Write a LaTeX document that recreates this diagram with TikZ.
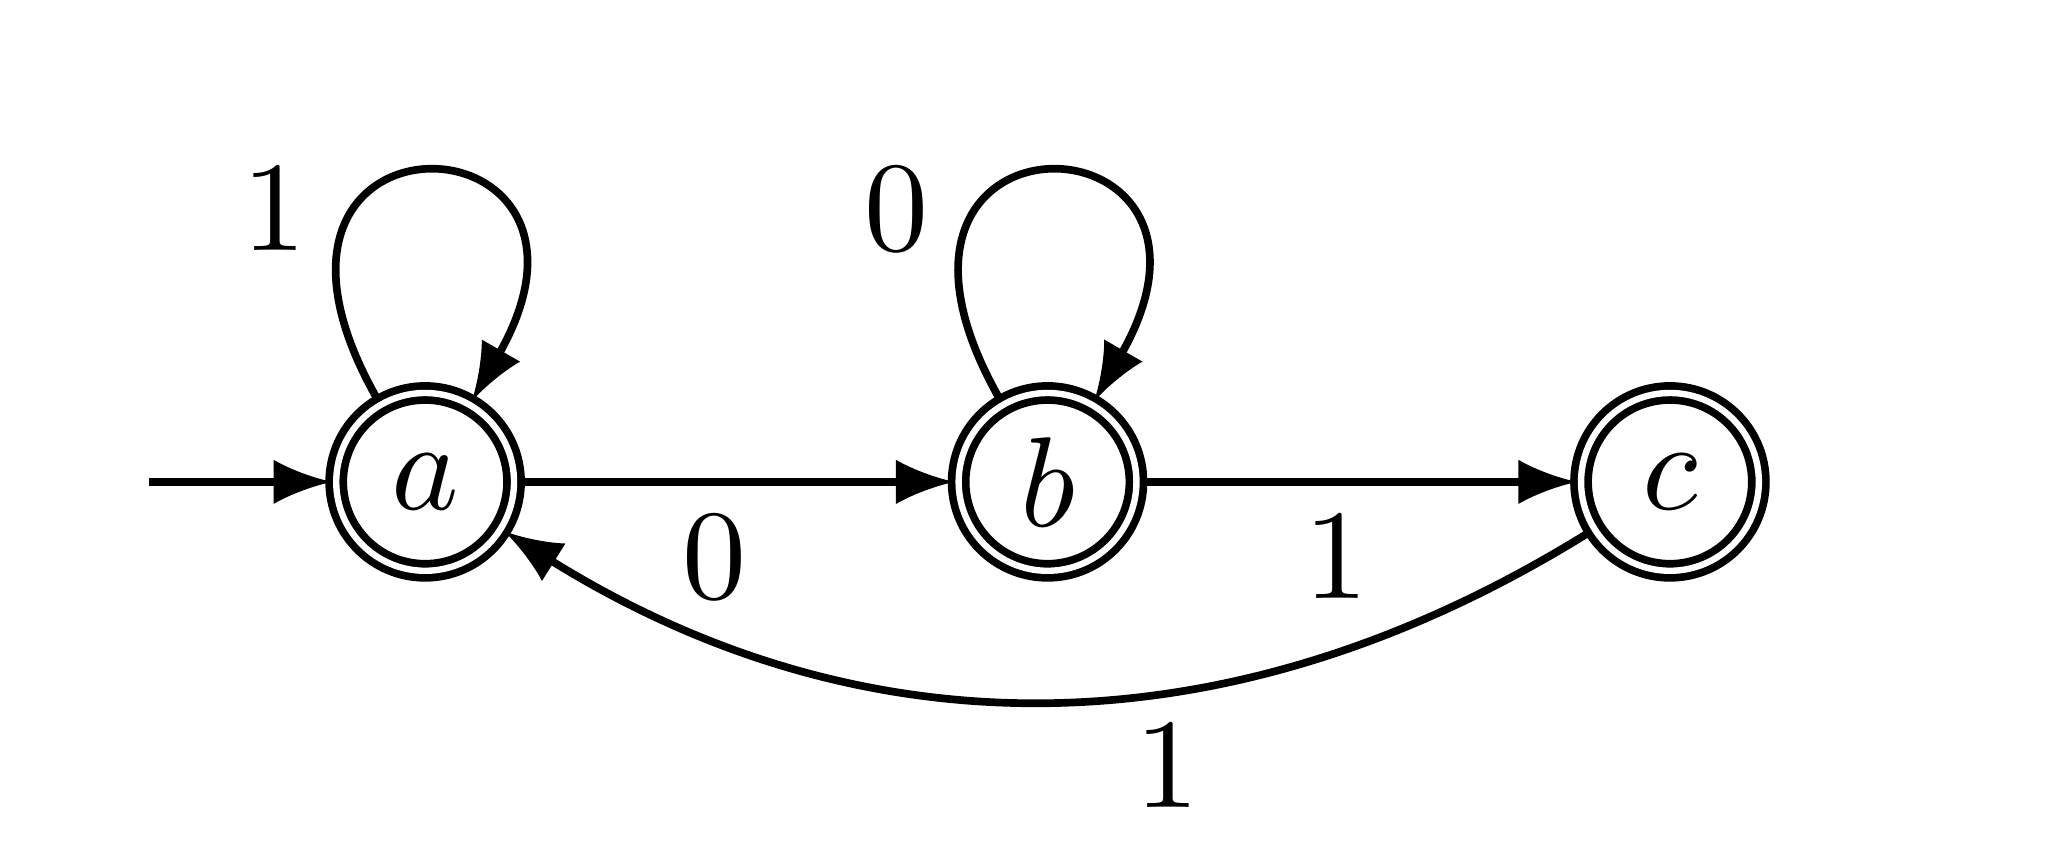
\documentclass[tikz,border=0pt]{standalone}
\usepackage{amsmath}
\usepackage{tikz}

\begin{document}
\begin{tikzpicture}[semithick, >=latex,
    accept/.style={draw, circle, double, double distance=0.5pt, minimum size=13.9pt, inner sep=0pt}]
    \useasboundingbox (-1.168, -1.003) rectangle (4.453, 1.324);

    \node[accept]  (A)   at (0.00, 0)    {$a$};
    \node[accept]  (B)   at (1.71, 0)    {$b$};
    \node[accept]  (C)   at (3.42, 0)    {$c$};
    \coordinate    (S)   at (-0.76, 0);

    \draw[->] (S) -- (A);

    \draw[->] (A) -- node[pos=0.45, below=-1pt] (lab) {$0$} (B);
    \draw[->] (B) -- node[pos=0.45, below=-1pt] (lbc) {$1$} (C);

    \draw[->] (A) to[out=120, in=60, out distance=9.8mm, in distance=9.4mm] node[pos=0.3, left] (laa) {$1$} (A);
    \draw[->] (B) to[out=120, in=60, out distance=9.8mm, in distance=9.4mm] node[pos=0.3, left] (lbb) {$0$} (B);

    \draw[->] (C) to[bend left=32] node[pos=0.39, below=-1pt] (lca) {$1$} (A);
  \end{tikzpicture}
\end{document}
